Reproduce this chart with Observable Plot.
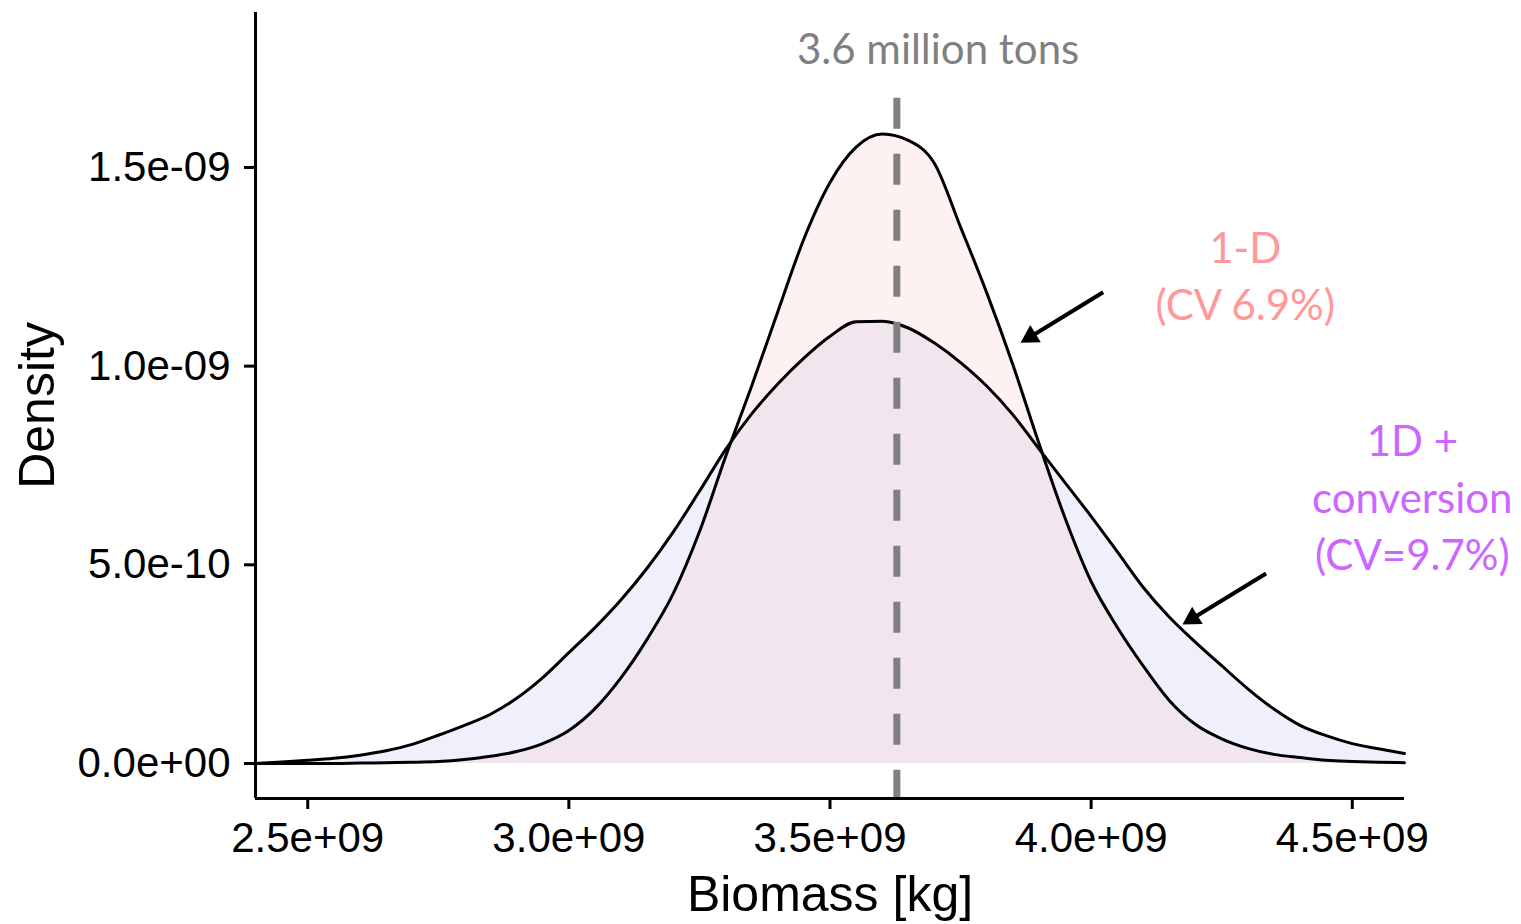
<!DOCTYPE html>
<html><head><meta charset="utf-8">
<script src="https://cdn.jsdelivr.net/npm/d3@7"></script>
<script src="https://cdn.jsdelivr.net/npm/@observablehq/plot@0.6"></script>
<style>
  html, body { margin: 0; padding: 0; background: #fff; }
  #chart svg { display: block; }
</style>
</head><body><div id="chart"></div>
<script>
// Biomass grid (kg)
const biomass = [2.40e9, 2.45e9, 2.50e9, 2.55e9, 2.60e9, 2.65e9, 2.70e9, 2.75e9, 2.80e9, 2.85e9,
  2.90e9, 2.95e9, 3.00e9, 3.05e9, 3.10e9, 3.15e9, 3.20e9, 3.25e9, 3.30e9, 3.35e9,
  3.40e9, 3.45e9, 3.50e9, 3.55e9, 3.60e9, 3.65e9, 3.70e9, 3.75e9, 3.80e9, 3.85e9,
  3.90e9, 3.95e9, 4.00e9, 4.05e9, 4.10e9, 4.15e9, 4.20e9, 4.25e9, 4.30e9, 4.35e9,
  4.40e9, 4.45e9, 4.50e9, 4.55e9, 4.60e9];
// Density, in units of 1e-9
const densityOneD = [0.000, 0.000, 0.000, 0.000, 0.001, 0.002, 0.003, 0.005, 0.010, 0.018,
  0.030, 0.050, 0.083, 0.138, 0.216, 0.313, 0.428, 0.583, 0.772, 0.950,
  1.137, 1.320, 1.462, 1.551, 1.584, 1.568, 1.510, 1.350, 1.185, 1.004,
  0.806, 0.618, 0.458, 0.343, 0.245, 0.158, 0.098, 0.062, 0.038, 0.023,
  0.015, 0.008, 0.005, 0.003, 0.002];
const densityConversion = [0.000, 0.004, 0.008, 0.013, 0.021, 0.032, 0.048, 0.071, 0.096, 0.124,
  0.164, 0.216, 0.279, 0.342, 0.412, 0.492, 0.583, 0.685, 0.790, 0.880,
  0.955, 1.020, 1.075, 1.112, 1.113, 1.096, 1.058, 1.009, 0.950, 0.878,
  0.792, 0.707, 0.622, 0.533, 0.443, 0.368, 0.305, 0.246, 0.188, 0.137,
  0.096, 0.070, 0.050, 0.037, 0.025];
const densityUnit = 1e-9;

const xTicks = [2.5e9, 3.0e9, 3.5e9, 4.0e9, 4.5e9];
const yTicks = [0, 0.5e-9, 1.0e-9, 1.5e-9];
const xDomain = [2.4e9, 4.6e9];
const yDomain = [-0.0881e-9, 1.890e-9];

const meanBiomass = 3.628e9;
const meanLineTop = 1.674e-9;
const meanLabel = "3.6 million tons";

const labelText = ["1-D\n(CV 6.9%)", "1D +\nconversion\n(CV=9.7%)"];
const labelX = [4.295e9, 4.615e9];
const labelY = [1.233e-9, 0.677e-9];
const labelColor = ["#FF9999", "#CC66FF"];

// arrow shafts (start -> head centre) and heads (centre of filled triangle)
const arrowX1 = [4.023e9, 4.335e9];
const arrowY1 = [1.186e-9, 0.478e-9];
const arrowX2 = [3.884e9, 4.194e9];
const arrowY2 = [1.074e-9, 0.365e-9];
const arrowHeadRotate = [238.7, 238.5];

const rowsOneD = biomass.map((x, i) => ({x, y: densityOneD[i] * densityUnit}));
const rowsConv = biomass.map((x, i) => ({x, y: densityConversion[i] * densityUnit}));
const labels = labelText.map((t, i) => ({t, x: labelX[i], y: labelY[i], c: labelColor[i]}));
const arrows = arrowX1.map((x1, i) => ({x1, y1: arrowY1[i], x2: arrowX2[i], y2: arrowY2[i], r: arrowHeadRotate[i]}));

const sci = v => {
  const [m, e] = v.toExponential(1).split("e");
  return m + "e" + e[0] + e.slice(1).padStart(2, "0");
};

const annoFont = "Lato, 'Open Sans', sans-serif";

const chart = Plot.plot({
  width: 1521,
  height: 924,
  marginLeft: 255,
  marginRight: 117,
  marginTop: 12,
  marginBottom: 126,
  style: {fontFamily: "'Liberation Sans', Arial, sans-serif", fontSize: "42px", color: "#000", background: "#fff", overflow: "visible"},
  x: {domain: xDomain},
  y: {domain: yDomain},
  marks: [
    Plot.areaY(rowsConv, {x: "x", y: "y", fill: "#F0F0FC", curve: "monotone-x"}),
    Plot.areaY(rowsOneD, {x: "x", y: "y", fill: "#F5B8B8", fillOpacity: 0.2, curve: "monotone-x"}),
    Plot.lineY(rowsConv, {x: "x", y: "y", stroke: "#000", strokeWidth: 3, curve: "monotone-x"}),
    Plot.lineY(rowsOneD, {x: "x", y: "y", stroke: "#000", strokeWidth: 3, curve: "monotone-x"}),
    Plot.ruleX([meanBiomass], {x: d => d, y1: meanLineTop, y2: yDomain[0] - 0.005e-9, stroke: "#808080", strokeWidth: 7, strokeDasharray: "31,25", clip: false}),
    Plot.ruleX([xDomain[0]], {stroke: "#000", strokeWidth: 3}),
    Plot.ruleY([yDomain[0]], {stroke: "#000", strokeWidth: 3}),
    Plot.axisX({ticks: xTicks, tickFormat: sci, tickSize: 11, tickPadding: 13, strokeWidth: 3, label: null}),
    Plot.axisY({ticks: yTicks, tickFormat: sci, tickSize: 11, tickPadding: 14, strokeWidth: 3, label: null}),
    Plot.text(["Biomass [kg]"], {text: d => d, frameAnchor: "bottom", dy: 96, fontSize: 50, lineAnchor: "middle"}),
    Plot.text(["Density"], {text: d => d, x: 1.983e9, y: 0.901e-9, rotate: -90, fontSize: 50, lineAnchor: "middle", textAnchor: "middle"}),
    Plot.text([meanLabel], {text: d => d, x: meanBiomass + 0.079e9, y: 1.795e-9, fill: "#808080", fontSize: 42, fontFamily: annoFont, lineAnchor: "middle"}),
    Plot.text(labels, {x: "x", y: "y", text: "t", fill: "c", fontSize: 42, fontFamily: annoFont, lineAnchor: "middle", lineHeight: 1.36}),
    Plot.link(arrows, {x1: "x1", y1: "y1", x2: "x2", y2: "y2", stroke: "#000", strokeWidth: 4}),
    Plot.dot(arrows, {x: "x2", y: "y2", symbol: "triangle", r: 7.5, rotate: "r", fill: "#000", stroke: "none"})
  ]
});
document.getElementById("chart").appendChild(chart);
</script>
</body></html>
